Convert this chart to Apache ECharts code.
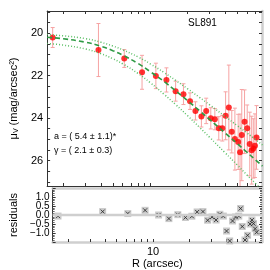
<!DOCTYPE html>
<html><head><meta charset="utf-8">
<script src="https://cdn.jsdelivr.net/npm/echarts@6/dist/echarts.min.js"></script>
<style>html,body{margin:0;padding:0;background:#fff}#c{width:270px;height:270px}</style>
</head><body><div id="c"></div>
<script>
// observed profile points
const R      = [1.64,3.83,6.18,8.59,11.1,13.5,16.0,18.5,20.9,23.1,25.8,28.2,30.7,33.1,35.6,38.0,40.4,42.9,45.3,48.0,51.0,52.8,54.5,57.4,60.3,63.2,65.5,67.5,69.6,71.6];
const mu     = [20.20,20.79,21.19,21.84,22.01,22.20,22.73,22.87,23.20,23.66,23.92,23.66,24.01,24.05,24.48,24.48,23.89,23.50,24.64,24.99,25.12,25.61,24.80,24.17,24.48,25.22,25.51,25.43,25.30,24.91];
const muErr  = [0.47,1.25,0.42,0.80,0.60,0.57,0.47,0.49,0.39,0.43,0.50,0.60,0.50,0.50,0.55,0.60,1.13,2.00,1.00,1.46,1.30,1.80,2.15,1.50,1.10,1.50,1.60,1.40,1.50,1.50];
const resid  = [-0.06,0.19,0.08,0.26,0.00,-0.20,0.02,-0.14,-0.07,0.17,0.19,-0.29,-0.11,-0.28,0.04,-0.06,-0.89,-1.44,-0.33,-0.11,-0.06,0.36,-0.64,-1.39,-1.13,-0.50,-0.28,-0.48,-0.76,-0.96];
// fitted model curve and its envelope
const modelR  = [1.48,2,3,4,5,6,8,10,13,16,20,25,30,40,50,60,70,80];
const modelMu = [20.19,20.26,20.42,20.61,20.82,21.03,21.43,21.81,22.29,22.71,23.18,23.66,24.06,24.70,25.20,25.61,25.96,26.26];
const upperMu = [20.06,20.12,20.25,20.42,20.60,20.78,21.12,21.44,21.86,22.22,22.62,23.03,23.37,23.92,24.35,24.70,25.00,25.26];
const lowerMu = [20.48,20.56,20.74,20.96,21.20,21.44,21.90,22.33,22.89,23.36,23.89,24.44,24.90,25.63,26.20,26.68,27.07,27.42];
// axis ticks
const xTicks = [2,3,4,5,6,7,8,9,10,20,30,40,50,60,70];
const xLabels = [10];
const yTicks = [19,19.5,20,20.5,21,21.5,22,22.5,23,23.5,24,24.5,25,25.5,26,26.5,27];
const yLabels = [20,22,24,26];

const FONT = 'Liberation Sans';
const XMIN = 1.48, XMAX = 79.3, YMIN = 18.95, YMAX = 27.2;
const dark = '#333333', light = '#cfcfcf';

const chart = echarts.init(document.getElementById('c'), null, {renderer:'canvas'});
const zip = (a,b)=>a.map((v,i)=>[v,b[i]]);

const xBase = (grid, pos, showLabel, lineColor, lineWidth) => ({
  type:'log', logBase:10, gridIndex:grid, position:pos, min:XMIN, max:XMAX,
  axisLine:{show:true, onZero:false, lineStyle:{color:lineColor, width:lineWidth}},
  axisTick:{show:true, inside:true, length:3, customValues:xTicks, lineStyle:{color:dark, width:1}},
  axisLabel:{show:showLabel, customValues:xLabels, color:'#000', fontFamily:FONT, fontSize:11, margin:4},
  splitLine:{show:false}, minorTick:{show:false}
});

const option = {
  animation:false,
  backgroundColor:'#fff',
  grid:[
    {left:40, top:11, width:222, height:175},
    {left:40, top:188, width:222, height:54}
  ],
  xAxis:[
    xBase(0,'bottom',false,dark,1),
    xBase(0,'top',false,dark,1),
    Object.assign(xBase(1,'bottom',true,light,2.5), {name:'R (arcsec)', nameLocation:'middle', nameGap:16,
      nameTextStyle:{color:'#000', fontFamily:FONT, fontSize:11}}),
    Object.assign(xBase(1,'top',false,light,2.5), {axisTick:{show:false}})
  ],
  yAxis:[
    {type:'value', gridIndex:0, position:'left', inverse:true, min:YMIN, max:YMAX,
     name:'{m|μ}{s|V}{m| (mag/arcsec²)}', nameLocation:'middle', nameGap:24,
     nameTextStyle:{color:'#000', fontFamily:FONT, rich:{m:{fontSize:11, fontFamily:FONT, color:'#000'}, s:{fontSize:7, fontFamily:FONT, color:'#000', padding:[6,0,0,0]}}},
     axisLine:{show:true, onZero:false, lineStyle:{color:dark, width:1}},
     axisTick:{show:true, inside:true, length:3, customValues:yTicks, lineStyle:{color:dark}},
     axisLabel:{customValues:yLabels, color:'#000', fontFamily:FONT, fontSize:11, margin:4},
     splitLine:{show:false}},
    {type:'value', gridIndex:0, position:'right', inverse:true, min:YMIN, max:YMAX,
     axisLine:{show:true, onZero:false, lineStyle:{color:light, width:2.5}},
     axisTick:{show:true, inside:true, length:3, customValues:yTicks, lineStyle:{color:dark}},
     axisLabel:{show:false}, splitLine:{show:false}},
    {type:'value', gridIndex:1, position:'left', min:-1.5, max:1.5, interval:0.5,
     name:'residuals', nameLocation:'middle', nameGap:24,
     nameTextStyle:{color:'#000', fontFamily:FONT, fontSize:11},
     axisLine:{show:true, onZero:false, lineStyle:{color:dark, width:1}},
     axisTick:{show:true, inside:true, length:3, lineStyle:{color:dark}},
     minorTick:{show:true, splitNumber:5, length:2, lineStyle:{color:'#666'}},
     axisLabel:{color:'#000', fontFamily:FONT, fontSize:10, margin:3,
       formatter:v=> Math.abs(v)>1.2 ? '' : (v<0 ? '\u2212'+Math.abs(v).toFixed(1) : v.toFixed(1))},
     splitLine:{show:false}},
    {type:'value', gridIndex:1, position:'right', min:-1.5, max:1.5, interval:0.5,
     axisLine:{show:true, onZero:false, lineStyle:{color:light, width:2.5}},
     axisTick:{show:true, inside:true, length:3, lineStyle:{color:dark}},
     minorTick:{show:true, splitNumber:5, length:2, lineStyle:{color:'#666'}},
     axisLabel:{show:false}, splitLine:{show:false}}
  ],
  graphic:[
    {type:'text', left:188, top:18, style:{text:'SL891', fontFamily:FONT, fontSize:10, fill:'#000'}},
    {type:'text', left:54, top:132, style:{text:'a = ( 5.4 \u00b1 1.1)*', fontFamily:FONT, fontSize:9, fill:'#000'}},
    {type:'text', left:54, top:146, style:{text:'\u03b3 = ( 2.1 \u00b1 0.3)', fontFamily:FONT, fontSize:9, fill:'#000'}}
  ],
  series:[
    {type:'line', xAxisIndex:0, yAxisIndex:0, data:zip(modelR, upperMu), smooth:true, symbol:'none',
     lineStyle:{color:'#5cbf66', width:1.5, type:[1,2]}},
    {type:'line', xAxisIndex:0, yAxisIndex:0, data:zip(modelR, lowerMu), smooth:true, symbol:'none',
     lineStyle:{color:'#5cbf66', width:1.5, type:[1,2]}},
    {type:'line', xAxisIndex:0, yAxisIndex:0, data:zip(modelR, modelMu), smooth:true, symbol:'none',
     lineStyle:{color:'#2e9a44', width:1.6, type:[5,3]}},
    {type:'custom', xAxisIndex:0, yAxisIndex:0, clip:true,
     data:R.map((r,i)=>[r, mu[i], muErr[i]]),
     renderItem:(params, api)=>{
       const x = api.value(0), y = api.value(1), e = api.value(2);
       const t = api.coord([x, y - e]), b = api.coord([x, y + e]);
       const st = {stroke:'#f6a3a3', lineWidth:1};
       return {type:'group', children:[
         {type:'line', shape:{x1:t[0], y1:t[1], x2:b[0], y2:b[1]}, style:st},
         {type:'line', shape:{x1:t[0]-2, y1:t[1], x2:t[0]+2, y2:t[1]}, style:st},
         {type:'line', shape:{x1:b[0]-2, y1:b[1], x2:b[0]+2, y2:b[1]}, style:st}
       ]};
     }},
    {type:'scatter', xAxisIndex:0, yAxisIndex:0, data:zip(R, mu), symbol:'circle', symbolSize:6,
     itemStyle:{color:'#ff0000'}},
    {type:'line', xAxisIndex:2, yAxisIndex:2, data:[[XMIN,0],[XMAX,0]], symbol:'none',
     lineStyle:{color:light, width:2.5}},
    {type:'scatter', xAxisIndex:2, yAxisIndex:2, data:zip(R, resid), symbol:'rect', symbolSize:7,
     itemStyle:{color:'#bdbdbd'}},
    {type:'scatter', xAxisIndex:2, yAxisIndex:2, data:zip(R, resid), symbol:'path://M0,0L10,10M10,0L0,10', symbolSize:4,
     itemStyle:{color:'none', borderColor:'#222', borderWidth:1}}
  ]
};
chart.setOption(option);
</script></body></html>
